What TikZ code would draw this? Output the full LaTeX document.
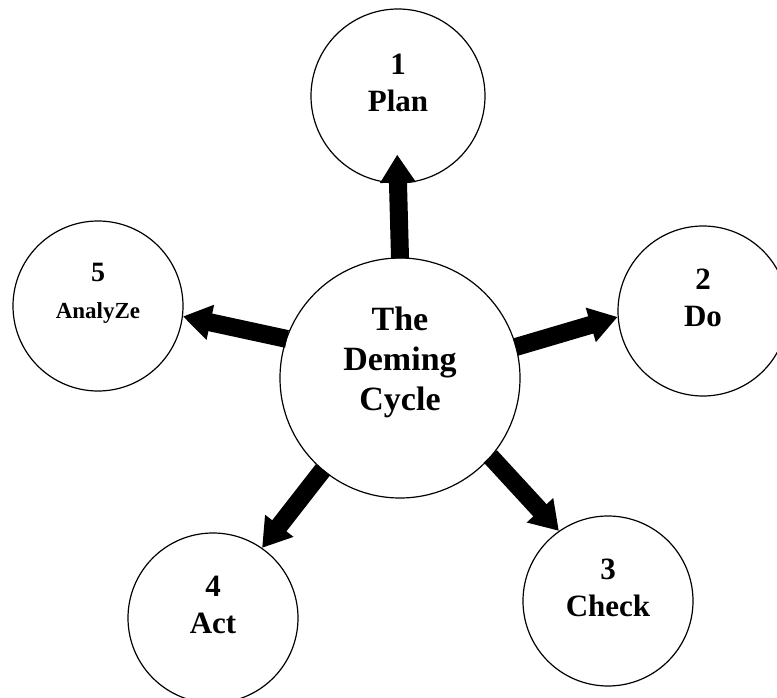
\documentclass[tikz,border=0pt]{standalone}
\usepackage{fontspec}
\setmainfont{Liberation Serif}
\usetikzlibrary{arrows.meta}
\begin{document}
\begin{tikzpicture}[x=1pt,y=-1pt,
  stage/.style={circle,draw,line width=1.2pt,inner sep=0pt,fill=white,minimum size=170pt},
  lab/.style={font=\fontsize{31}{37}\selectfont\bfseries,align=center,inner sep=0pt,yshift=13pt},
  big/.style={font=\fontsize{34}{40}\selectfont\bfseries,align=center,inner sep=0pt,yshift=16pt},
  blockarrow/.style={line width=18pt,-{Triangle[width=34pt,length=28pt]},shorten <=-1pt}]
\useasboundingbox[fill=white] (0,0) rectangle (777,698);
\node[stage,minimum size=240pt,label={[big]center:{The\\Deming\\Cycle}}] (cyc) at (400,378) {};
\node[stage,minimum size=174pt,label={[lab]center:{1\\Plan}}] (plan) at (398,96) {};
\node[stage,label={[lab]center:{2\\Do}}] (do) at (703,311) {};
\node[stage,label={[lab]center:{3\\Check}}] (chk) at (608,601) {};
\node[stage,label={[lab]center:{4\\Act}}] (act) at (213,618) {};
\node[stage,label={[lab]center:{{\fontsize{28}{28}\selectfont 5}\\{\fontsize{23}{26}\selectfont AnalyZe}}}] (ana) at (98,306) {};
\draw[blockarrow,shorten >=-29pt] (cyc.north) -- (plan.south);
\draw[blockarrow] (cyc.15) -- (do.184);
\draw[blockarrow] (cyc.-41) -- (chk.125);
\draw[blockarrow] (cyc.230) -- (act.55);
\draw[blockarrow] (cyc.161) -- (ana.-7);
\end{tikzpicture}
\end{document}
